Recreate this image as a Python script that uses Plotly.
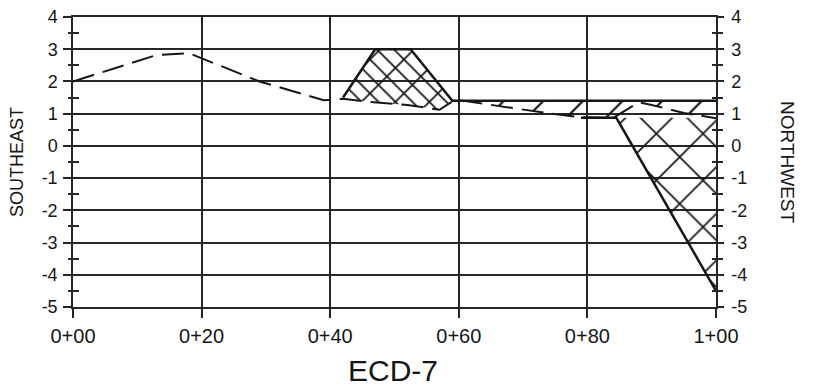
import numpy as np
import plotly.graph_objects as go

# ---- data ----
tick_vals = [0, 20, 40, 60, 80, 100]
tick_text = ["0+00", "0+20", "0+40", "0+60", "0+80", "1+00"]
y_ticks = [-5, -4, -3, -2, -1, 0, 1, 2, 3, 4]
y_text = ["-5", "-4", "-3", "-2", "-1", "0", "1", "2", "3", "4"]

ground_x = [0, 13, 18, 29, 39, 42, 46, 52, 57, 59, 60, 68, 74, 79, 84, 88, 90, 95, 100]
ground_y = [2.0, 2.82, 2.88, 2.0, 1.42, 1.46, 1.37, 1.27, 1.12, 1.38, 1.42, 1.18, 1.01, 0.89, 0.87, 1.35, 1.27, 1.02, 0.86]

design_x = [42, 47, 52.5, 59, 100]
design_y = [1.5, 3.0, 3.0, 1.4, 1.4]

ditch_x = [79, 84.5, 100]
ditch_y = [0.87, 0.87, -4.5]

FONT = "Liberation Sans, Arial, sans-serif"
INK = "#161616"

fig = go.Figure()

gx = np.array(ground_x, float)
gy = np.array(ground_y, float)

# mound (fill) region: design top vs existing ground, 42..59
m_dx = design_x[:4]
m_dy = design_y[:4]
sel = (gx >= design_x[0]) & (gx <= design_x[3])
poly_x = m_dx + list(gx[sel][::-1])
poly_y = m_dy + list(gy[sel][::-1])
for shp, sz, sol in (("\\", 12, 0.14), ("/", 24, 0.07)):
    fig.add_trace(go.Scatter(x=poly_x, y=poly_y, mode="none", fill="toself",
                             fillcolor="rgba(0,0,0,0)",
                             fillpattern=dict(shape=shp, size=sz, solidity=sol,
                                              fgcolor=INK, fgopacity=1),
                             hoverinfo="skip", showlegend=False))

# band between design flat and existing ground, 59..100
sel2 = gx >= design_x[3]
band_x = [design_x[3], design_x[4]] + list(gx[sel2][::-1])
band_y = [design_y[3], design_y[4]] + list(gy[sel2][::-1])
fig.add_trace(go.Scatter(x=band_x, y=band_y, mode="none", fill="toself",
                         fillcolor="rgba(0,0,0,0)",
                         fillpattern=dict(shape="/", size=28, solidity=0.08,
                                          fgcolor=INK, fgopacity=1),
                         hoverinfo="skip", showlegend=False))

# ditch (cut) crosshatch
cut_x = ditch_x[1:] + [ditch_x[-1]]
cut_y = ditch_y[1:] + [ditch_y[1]]
fig.add_trace(go.Scatter(x=cut_x, y=cut_y, mode="none", fill="toself",
                         fillcolor="rgba(0,0,0,0)",
                         fillpattern=dict(shape="x", size=33, solidity=0.1,
                                          fgcolor=INK, fgopacity=1),
                         hoverinfo="skip", showlegend=False))

# lines
fig.add_trace(go.Scatter(x=ground_x, y=ground_y, mode="lines",
                         line=dict(color=INK, width=2, dash="22px,9px"),
                         showlegend=False))
fig.add_trace(go.Scatter(x=design_x, y=design_y, mode="lines",
                         line=dict(color=INK, width=2.5), showlegend=False))
fig.add_trace(go.Scatter(x=ditch_x, y=ditch_y, mode="lines",
                         line=dict(color=INK, width=2.5), showlegend=False))

# invisible traces to activate extra axes
for ax in ("y2", "y3", "y4"):
    fig.add_trace(go.Scatter(x=[0], y=[0], yaxis=ax, mode="none",
                             showlegend=False, hoverinfo="skip"))

grid_col = "#262626"
minor_in = dict(dtick=1, tick0=0.5, ticks="inside", ticklen=6,
                tickwidth=1.5, tickcolor=grid_col, showgrid=False)
minor_out = dict(dtick=1, tick0=0.5, ticks="outside", ticklen=5,
                 tickwidth=1.5, tickcolor=grid_col, showgrid=False)

fig.update_layout(
    width=809, height=383,
    margin=dict(l=65, r=101, t=9, b=84),
    paper_bgcolor="white", plot_bgcolor="white",
    font=dict(family=FONT, color=INK, size=18),
    xaxis=dict(range=[0, 100], tickvals=tick_vals, ticktext=tick_text,
               showgrid=True, gridcolor=grid_col, gridwidth=1.5,
               ticks="outside", ticklen=9, tickwidth=1.5, tickcolor=grid_col,
               zeroline=False, showline=True, mirror=True,
               linecolor=grid_col, linewidth=1.5, automargin=False,
               ticklabeloverflow="allow",
               tickfont=dict(size=20, family=FONT), ticklabelstandoff=1),
    yaxis=dict(range=[-5, 4], tickvals=y_ticks, ticktext=y_text,
               showgrid=True, gridcolor=grid_col, gridwidth=1.5,
               ticks="outside", ticklen=8, tickwidth=1.5, tickcolor=grid_col,
               minor=minor_in, ticklabeloverflow="allow",
               zeroline=False, showline=True, linecolor=grid_col, linewidth=1.5,
               automargin=False,
               tickfont=dict(size=18, family=FONT), ticklabelstandoff=2),
    yaxis2=dict(range=[-5, 4], tickvals=y_ticks, ticktext=y_text,
                overlaying="y", side="right",
                showgrid=False, zeroline=False, showline=True,
                linecolor=grid_col, linewidth=1.5, automargin=False,
                ticks="outside", ticklen=6, tickwidth=1.5, tickcolor=grid_col,
                minor=minor_out, ticklabelstandoff=4, ticklabeloverflow="allow",
                tickfont=dict(size=18, family=FONT)),
    yaxis3=dict(range=[-5, 4], overlaying="y", side="left",
                showgrid=False, zeroline=False, showline=False, automargin=False,
                showticklabels=False, tickvals=[],
                minor=dict(minor_out, ticklen=4)),
    yaxis4=dict(range=[-5, 4], overlaying="y", side="right",
                showgrid=False, zeroline=False, showline=False, automargin=False,
                showticklabels=False, tickvals=[],
                minor=dict(minor_in, ticklen=4)),
    annotations=[
        dict(text="NORTHWEST", xref="paper", yref="paper",
             x=1.0, xshift=72, xanchor="center", y=0.5, yanchor="middle",
             textangle=90, showarrow=False,
             font=dict(size=19, family=FONT)),
        dict(text="SOUTHEAST", xref="paper", yref="paper",
             x=0.0, xshift=-56, xanchor="center", y=0.5, yanchor="middle",
             textangle=-90, showarrow=False,
             font=dict(size=18, family=FONT)),
        dict(text="ECD-7", xref="paper", yref="paper",
             x=0.5, xshift=-2, y=0.0, yshift=-63, yanchor="middle", showarrow=False,
             font=dict(size=30, family=FONT)),
    ],
)

fig.write_html("out.html")
